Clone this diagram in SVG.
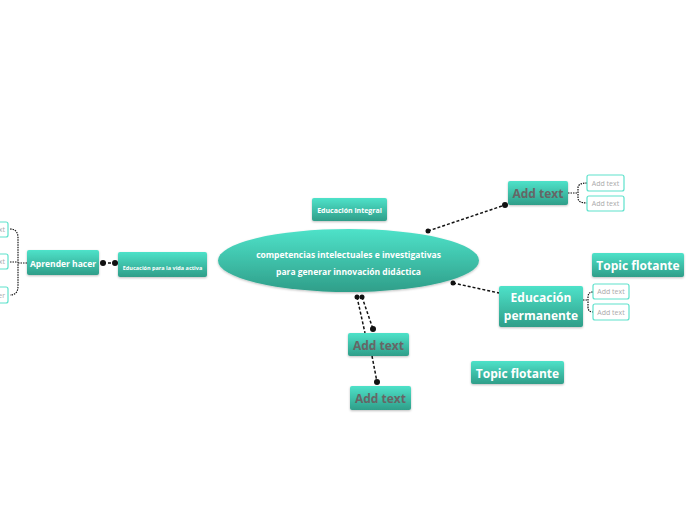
<svg xmlns="http://www.w3.org/2000/svg" width="696" height="520" viewBox="0 0 696 520">
<defs>
<linearGradient id="g" x1="0" y1="0" x2="0" y2="1">
<stop offset="0" stop-color="#4ee2c9"/>
<stop offset="1" stop-color="#2f9e89"/>
</linearGradient>
<filter id="sh" x="-10%" y="-10%" width="120%" height="140%">
<feDropShadow dx="0" dy="1" stdDeviation="0.8" flood-color="#000" flood-opacity="0.25"/>
</filter>
</defs>
<style>
.n{fill:url(#g);filter:url(#sh)}
.s{fill:#fff;stroke:#5ee2cc;stroke-width:1.2}
.t{font-family:"Open Sans","Noto Sans",sans-serif;font-weight:bold;fill:#fff;text-anchor:middle}
.a{font-family:"Open Sans","Noto Sans",sans-serif;font-weight:bold;fill:#666;text-anchor:middle}
.st{font-family:"Open Sans","Noto Sans",sans-serif;fill:#aaa;font-size:7px;text-anchor:middle}
.sl{font-family:"Open Sans","Noto Sans",sans-serif;fill:#aaa;font-size:7px;text-anchor:end}
.c{fill:none;stroke:#111;stroke-width:1.5;stroke-dasharray:3 2}
.f{fill:none;stroke:#111;stroke-width:1.2;stroke-dasharray:1.5 1}
.d{fill:#111}
</style>
<g id="connectors">
<path class="c" d="M103,263 L115,263"/>
<circle class="d" cx="103" cy="263" r="3"/>
<circle class="d" cx="115" cy="263" r="3"/>
<path class="f" d="M27,263 L18,263 M10,229 Q18,229 18,238 L18,286 Q18,295 10,295 M10,262 L18,262"/>
<path class="c" d="M428,231 L505,205"/>
<circle class="d" cx="428" cy="231" r="2.5"/>
<circle class="d" cx="505" cy="205" r="3"/>
<path class="f" d="M568,193 L578,193 M587,183 Q578,183 578,188 L578,198 Q578,203 587,203"/>
<path class="c" d="M453,283 L499,293"/>
<circle class="d" cx="453" cy="283" r="2.5"/>
<path class="f" d="M583,300 L588,300 M593,292 Q588,292 588,297 L588,307 Q588,312 593,312"/>
<path class="c" d="M357,297 L365,333"/>
<path class="c" d="M362,297 L373,329"/>
<circle class="d" cx="357" cy="297" r="2.5"/>
<circle class="d" cx="362" cy="297" r="2.5"/>
<circle class="d" cx="373" cy="329" r="3"/>
<path class="c" d="M372,356 L377,382"/>
<circle class="d" cx="377" cy="382" r="3"/>
</g>
<g id="central">
<ellipse class="n" cx="348.5" cy="260.5" rx="130.5" ry="31.5"/>
<text class="t" x="348.5" y="258" font-size="8.5">competencias intelectuales e investigativas</text>
<text class="t" x="348.5" y="275" font-size="8.5">para generar innovación didáctica</text>
</g>
<g id="educacion-integral">
<rect class="n" x="312" y="198" width="75" height="23" rx="2"/>
<text class="t" x="349.5" y="213" font-size="7">Educación integral</text>
</g>
<g id="educacion-vida-activa">
<rect class="n" x="118" y="252" width="89" height="25" rx="2"/>
<text class="t" x="162.5" y="269.5" font-size="5.5">Educación para la vida activa</text>
</g>
<g id="aprender-hacer">
<rect class="n" x="27" y="250" width="72" height="25" rx="2"/>
<text class="t" x="63" y="267" font-size="8.5">Aprender hacer</text>
</g>
<g id="left-sub1">
<rect class="s" x="-40" y="222" width="48" height="15" rx="2"/>
<text class="sl" x="5" y="232">Add text</text>
</g>
<g id="left-sub2">
<rect class="s" x="-40" y="254" width="48" height="15" rx="2"/>
<text class="sl" x="5" y="264">Add text</text>
</g>
<g id="left-sub3">
<rect class="s" x="-40" y="287" width="48" height="16" rx="2"/>
<text class="sl" x="5" y="298">Aprender a ser</text>
</g>
<g id="add-text-top">
<rect class="n" x="508" y="181" width="60" height="24" rx="2"/>
<text class="a" x="538" y="197.5" font-size="12">Add text</text>
</g>
<g id="add-text-top-s1">
<rect class="s" x="587" y="175" width="37" height="16" rx="2"/>
<text class="st" x="605.5" y="185.5">Add text</text>
</g>
<g id="add-text-top-s2">
<rect class="s" x="587" y="196" width="37" height="15" rx="2"/>
<text class="st" x="605.5" y="206">Add text</text>
</g>
<g id="topic-flotante-1">
<rect class="n" x="592" y="253" width="92" height="24" rx="2"/>
<text class="t" x="638" y="270" font-size="12">Topic flotante</text>
</g>
<g id="educacion-permanente">
<rect class="n" x="499" y="286" width="84" height="41" rx="2"/>
<text class="t" x="541" y="302" font-size="12">Educación</text>
<text class="t" x="541" y="320" font-size="12">permanente</text>
</g>
<g id="perm-s1">
<rect class="s" x="593" y="284" width="36" height="15" rx="2"/>
<text class="st" x="611" y="294">Add text</text>
</g>
<g id="perm-s2">
<rect class="s" x="593" y="304" width="36" height="16" rx="2"/>
<text class="st" x="611" y="314.5">Add text</text>
</g>
<g id="add-text-bottom-1">
<rect class="n" x="348" y="333" width="61" height="23" rx="2"/>
<text class="a" x="378.5" y="349.5" font-size="12">Add text</text>
</g>
<g id="add-text-bottom-2">
<rect class="n" x="350" y="386" width="61" height="24" rx="2"/>
<text class="a" x="380.5" y="402.5" font-size="12">Add text</text>
</g>
<g id="topic-flotante-2">
<rect class="n" x="471" y="361" width="93" height="23" rx="2"/>
<text class="t" x="517.5" y="377.5" font-size="12">Topic flotante</text>
</g>
</svg>
